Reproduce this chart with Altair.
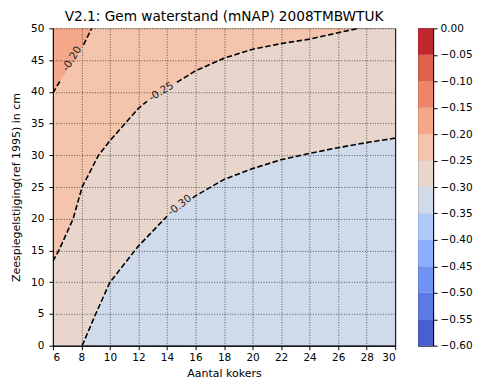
import altair as alt
import pandas as pd

# Contour levels and band colours (coolwarm, 12 bands)
levels = [-0.60, -0.55, -0.50, -0.45, -0.40, -0.35, -0.30, -0.25, -0.20, -0.15, -0.10, -0.05, 0.00]
band_colors = ["#485fd1", "#5b7ae5", "#7093f3", "#8db0fe", "#aec9fc", "#cfdaea",
               "#e8d6cc", "#f5c4ac", "#f4a889", "#ee8468", "#de614d", "#c0282f"]

x_ticks = list(range(6, 31, 2))
y_ticks = list(range(0, 51, 5))

# Contour lines
c30_x = [8.05, 9.0, 10.0, 12.0, 14.0, 15.8, 16.0, 18.0, 20.0, 22.0, 24.0, 26.0, 28.0, 30.0]
c30_y = [0.0, 5.0, 10.0, 15.7, 20.4, 23.3, 23.6, 26.2, 27.9, 29.3, 30.3, 31.2, 32.0, 32.7]

c25_x = [6.0, 6.42, 7.42, 8.05, 9.2, 10.0, 12.0, 12.6, 14.7, 16.0, 18.0, 20.0, 22.0, 24.0, 26.0, 27.4]
c25_y = [13.3, 15.0, 20.0, 25.0, 30.0, 32.3, 37.4, 38.5, 41.5, 43.3, 45.3, 46.7, 47.6, 48.3, 49.3, 50.0]

c20_x = [6.0, 6.5, 8.15, 8.72]
c20_y = [39.8, 41.7, 47.4, 50.0]

label_text = ["-0.30", "-0.25", "-0.20"]
label_x = [14.9, 13.6, 7.35]
label_y = [22.1, 40.0, 45.2]
label_angle = [322, 328, 302]

x_dom = [6, 30]
y_dom = [0, 50]
top_value = 50

xs = alt.Scale(domain=x_dom, nice=False, zero=False)
ys = alt.Scale(domain=y_dom, nice=False)

xaxis = alt.Axis(values=x_ticks, title="Aantal kokers", grid=True, zindex=1,
                 labelPadding=3, titlePadding=4, format="d", labelOverlap=False)
yaxis = alt.Axis(values=y_ticks, title="Zeespiegelstijging(ref 1995) in cm", grid=True,
                 zindex=1, labelPadding=5, titlePadding=9, format="d", labelOverlap=False)


def X():
    return alt.X("x:Q", scale=xs, axis=xaxis)


def Y():
    return alt.Y("y:Q", scale=ys, axis=yaxis)


def area_df(xv, yv):
    return pd.DataFrame({"x": xv, "y": yv})


fill30 = area_df([x_dom[0]] + c30_x, [y_dom[0]] + c30_y)
fill25 = area_df(c25_x, c25_y)
fill20 = area_df(c20_x, c20_y)


def area_layer(df, color):
    return alt.Chart(df).mark_area(color=color, clip=True, opacity=1).encode(
        x=X(), y=Y(), y2=alt.datum(top_value),
    )


def line_df(xv, yv, lx):
    return pd.DataFrame({"x": xv, "y": yv, "seg": [0 if v < lx else 1 for v in xv]})


lines = pd.concat([
    line_df(c30_x, c30_y, label_x[0]).assign(c="c30"),
    line_df(c25_x, c25_y, label_x[1]).assign(c="c25"),
    line_df(c20_x, c20_y, label_x[2]).assign(c="c20"),
], ignore_index=True)
lines["key"] = lines["c"] + "_" + lines["seg"].astype(str)

line_layer = alt.Chart(lines).mark_line(color="black", strokeWidth=1.6,
                                        strokeDash=[5.5, 2.5], clip=True).encode(
    x=X(), y=Y(), detail="key:N",
)

labels = pd.DataFrame({"t": label_text, "x": label_x, "y": label_y, "a": label_angle})
text_layers = [
    alt.Chart(labels.iloc[[i]]).mark_text(fontSize=10.5, font="DejaVu Sans", color="#222222",
                                          angle=int(label_angle[i])).encode(
        x=X(), y=Y(), text="t:N")
    for i in range(len(label_text))
]

main = alt.layer(
    area_layer(fill30, band_colors[6]),
    area_layer(fill25, band_colors[7]),
    area_layer(fill20, band_colors[8]),
    line_layer,
    *text_layers,
).properties(
    width=343, height=318,
    title=alt.TitleParams("V2.1: Gem waterstand (mNAP) 2008TMBWTUK", fontSize=13.7,
                          fontWeight="normal", font="DejaVu Sans", color="black", offset=0),
)

cb = pd.DataFrame({"lo": levels[:-1], "hi": levels[1:], "color": band_colors})
colorbar = alt.Chart(cb).mark_rect().encode(
    y=alt.Y("lo:Q", scale=alt.Scale(domain=[levels[0], levels[-1]], nice=False, zero=False),
            axis=alt.Axis(orient="right", values=levels, format=".2f", title=None, grid=False,
                          labelPadding=3, labelOverlap=False)),
    y2="hi:Q",
    color=alt.Color("color:N", scale=None),
).properties(width=15, height=318)

chart = alt.hconcat(main, colorbar, spacing=21).properties(
    padding={"left": 2, "right": 0, "top": 0, "bottom": 0}
).configure_view(
    stroke="black", strokeWidth=1, fill=band_colors[5]
).configure_axis(
    domainColor="black", tickColor="black", tickSize=4, labelFontSize=10.5, titleFontSize=11,
    labelColor="black", titleColor="black", labelFont="DejaVu Sans", titleFont="DejaVu Sans",
    titleFontWeight="normal", gridColor="black", gridDash=[1, 1.6], gridWidth=0.8,
    gridOpacity=0.75, domain=True,
)

chart.save("out.html", embed_options={"renderer": "svg", "actions": False})
